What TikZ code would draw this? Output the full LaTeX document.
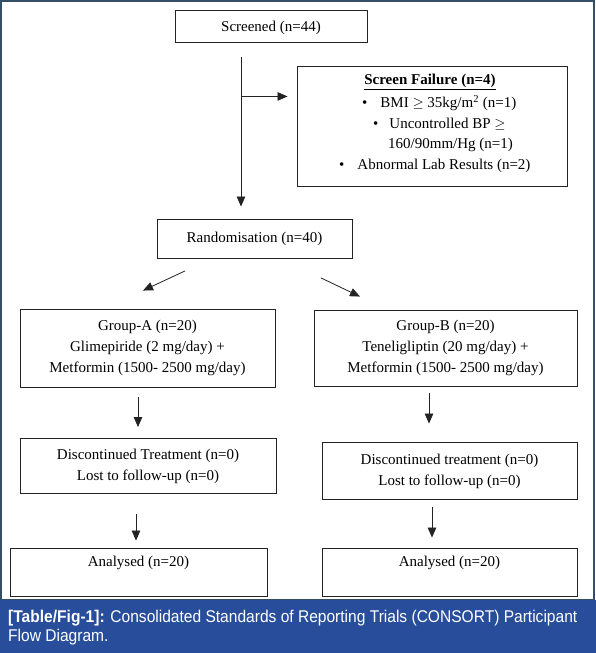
\documentclass[tikz,border=0pt]{standalone}
\usepackage{fontspec}
\setmainfont{Liberation Serif}
\newfontfamily\capfont[FakeStretch=0.915]{Liberation Sans}
\usetikzlibrary{arrows.meta,calc}
\definecolor{capblue}{RGB}{40,78,155}
\definecolor{framec}{RGB}{52,78,104}
\definecolor{boxc}{RGB}{35,35,35}
\tikzset{
  box/.style={draw=boxc,line width=0.9pt,rectangle,inner sep=0pt,align=center,font=\fontsize{15}{21}\selectfont},
  txt/.style={inner sep=0pt,font=\fontsize{15}{21}\selectfont},
  arr/.style={draw=boxc,line width=0.8pt,-{Triangle[length=10pt,width=8.5pt]}},
  captxt/.style={anchor=base west,inner sep=0pt,text=white,font=\capfont\fontsize{17}{20}\selectfont},
}
\begin{document}
\begin{tikzpicture}[x=1pt,y=-1pt]
\useasboundingbox (0,0) rectangle (596,653);
\fill[white] (0,0) rectangle (596,653);
\draw[framec,line width=1.5pt] (1,1) rectangle (594,600);
\fill[capblue] (0,600) rectangle (596,653);

% boxes
\node[box,minimum width=192pt,minimum height=32pt] (scr) at (271,26) {};
\node[txt] (scrt) at (271,28) {Screened (n=44)};
\node[box,minimum width=270pt,minimum height=120pt] (fail) at (432,126) {};
\node[txt] (f0) at (430,82) {\textbf{\underline{Screen Failure (n=4)}}};
\node[txt,anchor=west] (f1) at (362,103) {\textbullet\hspace{13pt}BMI $\geq$ 35kg/m\textsuperscript{2} (n=1)};
\node[txt,anchor=west] (f2) at (373,124) {\textbullet\hspace{11pt}Uncontrolled BP $\geq$};
\node[txt,anchor=west] (f3) at (388,145) {160/90mm/Hg (n=1)};
\node[txt,anchor=west] (f4) at (339,166) {\textbullet\hspace{13pt}Abnormal Lab Results (n=2)};

\node[box,minimum width=195pt,minimum height=39pt] (rand) at (254.5,238.5) {Randomisation (n=40)};

\node[box,minimum width=255pt,minimum height=78pt] (gA) at (147.5,348) {Group-A (n=20)\\Glimepiride (2 mg/day) +\\Metformin (1500- 2500 mg/day)};
\node[box,minimum width=263pt,minimum height=76pt] (gB) at (445.5,348) {Group-B (n=20)\\Teneligliptin (20 mg/day) +\\Metformin (1500- 2500 mg/day)};

\node[box,minimum width=256pt,minimum height=55pt] (dA) at (148,466) {Discontinued Treatment (n=0)\\Lost to follow-up (n=0)};
\node[box,minimum width=255pt,minimum height=57pt] (dB) at (449.5,471) {Discontinued treatment (n=0)\\Lost to follow-up (n=0)};

\node[box,minimum width=257pt,minimum height=48pt] (aA) at (138.5,572) {};
\node[txt] (aAt) at (138.5,563) {Analysed (n=20)};
\node[box,minimum width=255pt,minimum height=48pt] (aB) at (449.5,572) {};
\node[txt] (aBt) at (449.5,563) {Analysed (n=20)};

% connectors
\coordinate (v0) at ($(scr.south)+(-30,15)$);
\coordinate (vb) at ($(v0)+(0,39)$);
\draw[arr] (v0) -- ([yshift=12pt]rand.north -| v0);
\draw[arr] (vb) -- ([xshift=-9pt]fail.west |- vb);
\coordinate (r1) at ($(rand.south)+(-69.5,12.5)$);
\coordinate (r2) at ($(rand.south)+(66.5,19.5)$);
\draw[arr] (r1) -- ($(gA.north)+(-4.5,-18)$);
\draw[arr] (r2) -- ($(gB.north)+(-85.5,-13)$);
\coordinate (a1) at ($(gA.south)+(-9.5,10)$);
\draw[arr] (a1) -- ([yshift=11pt]dA.north -| a1);
\coordinate (a2) at ($(dA.south)+(-12,20)$);
\draw[arr] (a2) -- ([yshift=7pt]aA.north -| a2);
\coordinate (b1) at ($(gB.south)+(-16.5,7)$);
\draw[arr] (b1) -- ([yshift=18.5pt]dB.north -| b1);
\coordinate (b2) at ($(dB.south)+(-17.5,7.5)$);
\draw[arr] (b2) -- ([yshift=10pt]aB.north -| b2);

% caption
\node[captxt] (cap1) at (8,622) {\textbf{[Table/Fig-1]:} Consolidated Standards of Reporting Trials (CONSORT) Participant};
\node[captxt] (cap2) at (8,641) {Flow Diagram.};
\end{tikzpicture}
\end{document}
